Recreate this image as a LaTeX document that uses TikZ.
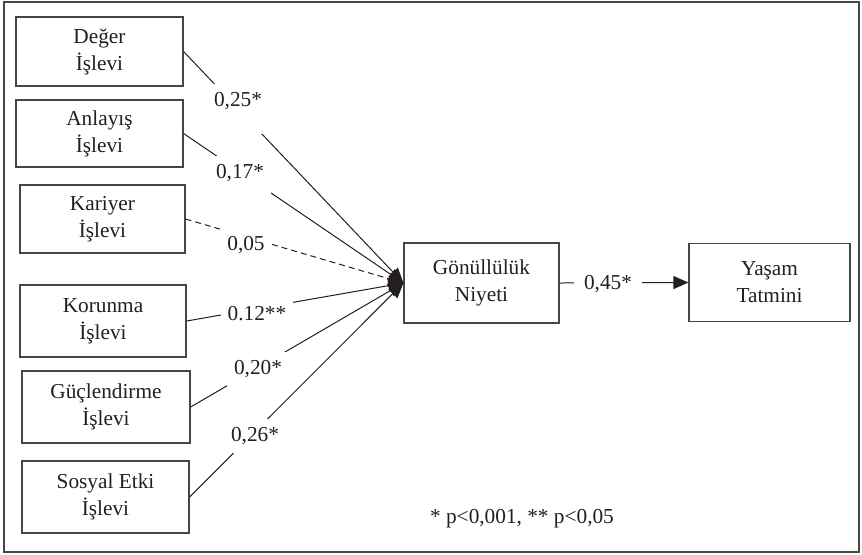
\documentclass[tikz,border=0pt]{standalone}
\usepackage{fontspec}
\setmainfont{Liberation Serif}
\usetikzlibrary{arrows.meta}
\definecolor{ink}{RGB}{35,31,32}
\definecolor{edge}{RGB}{70,70,70}
\begin{document}
\begin{tikzpicture}[x=0.5pt,y=-0.5pt,
  every node/.style={font=\fontsize{10.65pt}{13.5pt}\selectfont, text=ink},
  box/.style={draw=edge, line width=0.6pt, align=center, inner sep=0pt, fill=white},
  conn/.style={draw=ink, line width=0.5pt, -{Triangle[length=7.5pt,width=6.5pt]}},
  lab/.style={fill=white, inner xsep=3.5pt, inner ysep=4pt}]
\useasboundingbox (0,0) rectangle (862,554);
\draw[edge, line width=0.75pt] (4,2) rectangle (859,552);
% source boxes
\node[box, minimum width=83.5pt, minimum height=34.5pt] (deger) at (99.5,51.5) {Değer\\İşlevi};
\node[box, minimum width=83.5pt, minimum height=33.5pt] (anlayis) at (99.5,133.5) {Anlayış\\İşlevi};
\node[box, minimum width=82.5pt, minimum height=34pt] (kariyer) at (102.5,219) {Kariyer\\İşlevi};
\node[box, minimum width=83pt, minimum height=36pt] (korunma) at (103,321) {Korunma\\İşlevi};
\node[box, minimum width=84pt, minimum height=36pt] (guc) at (106,407) {Güçlendirme\\İşlevi};
\node[box, minimum width=83.5pt, minimum height=36pt] (sosyal) at (105.5,497) {Sosyal Etki\\İşlevi};
% target boxes
\node[box, minimum width=77.5pt, minimum height=40pt] (gon) at (481.5,283) {Gönüllülük\\Niyeti};
\node[box, minimum width=80.5pt, minimum height=39pt] (yasam) at (769.5,282.5) {Yaşam\\Tatmini};
% connectors
\draw[conn] (deger.east) -- (gon.west);
\draw[conn] (anlayis.east) -- (gon.west);
\draw[conn, dash pattern=on 3pt off 2pt] (kariyer.east) -- (gon.west);
\draw[conn] (korunma.east) -- (gon.west);
\draw[conn] (guc.east) -- (gon.west);
\draw[conn] (sosyal.east) -- (gon.west);
\draw[conn] (gon.east) -- (yasam.west);
% labels
\node[lab, anchor=base, text depth=10pt] (l1) at (238,106) {0,25*};
\node[lab, anchor=base, text depth=6pt] (l2) at (240,178) {0,17*};
\node[lab] (l3) at (246,245) {0,05};
\node[lab] (l4) at (257,314) {0.12**};
\node[lab] (l5) at (258,369) {0,20*};
\node[lab] (l6) at (255,436) {0,26*};
\node[lab, inner ysep=1pt, inner xsep=5pt] (l7) at (608,284) {0,45*};
\node (note) at (522,519) {* p<0,001, ** p<0,05};
\end{tikzpicture}
\end{document}
